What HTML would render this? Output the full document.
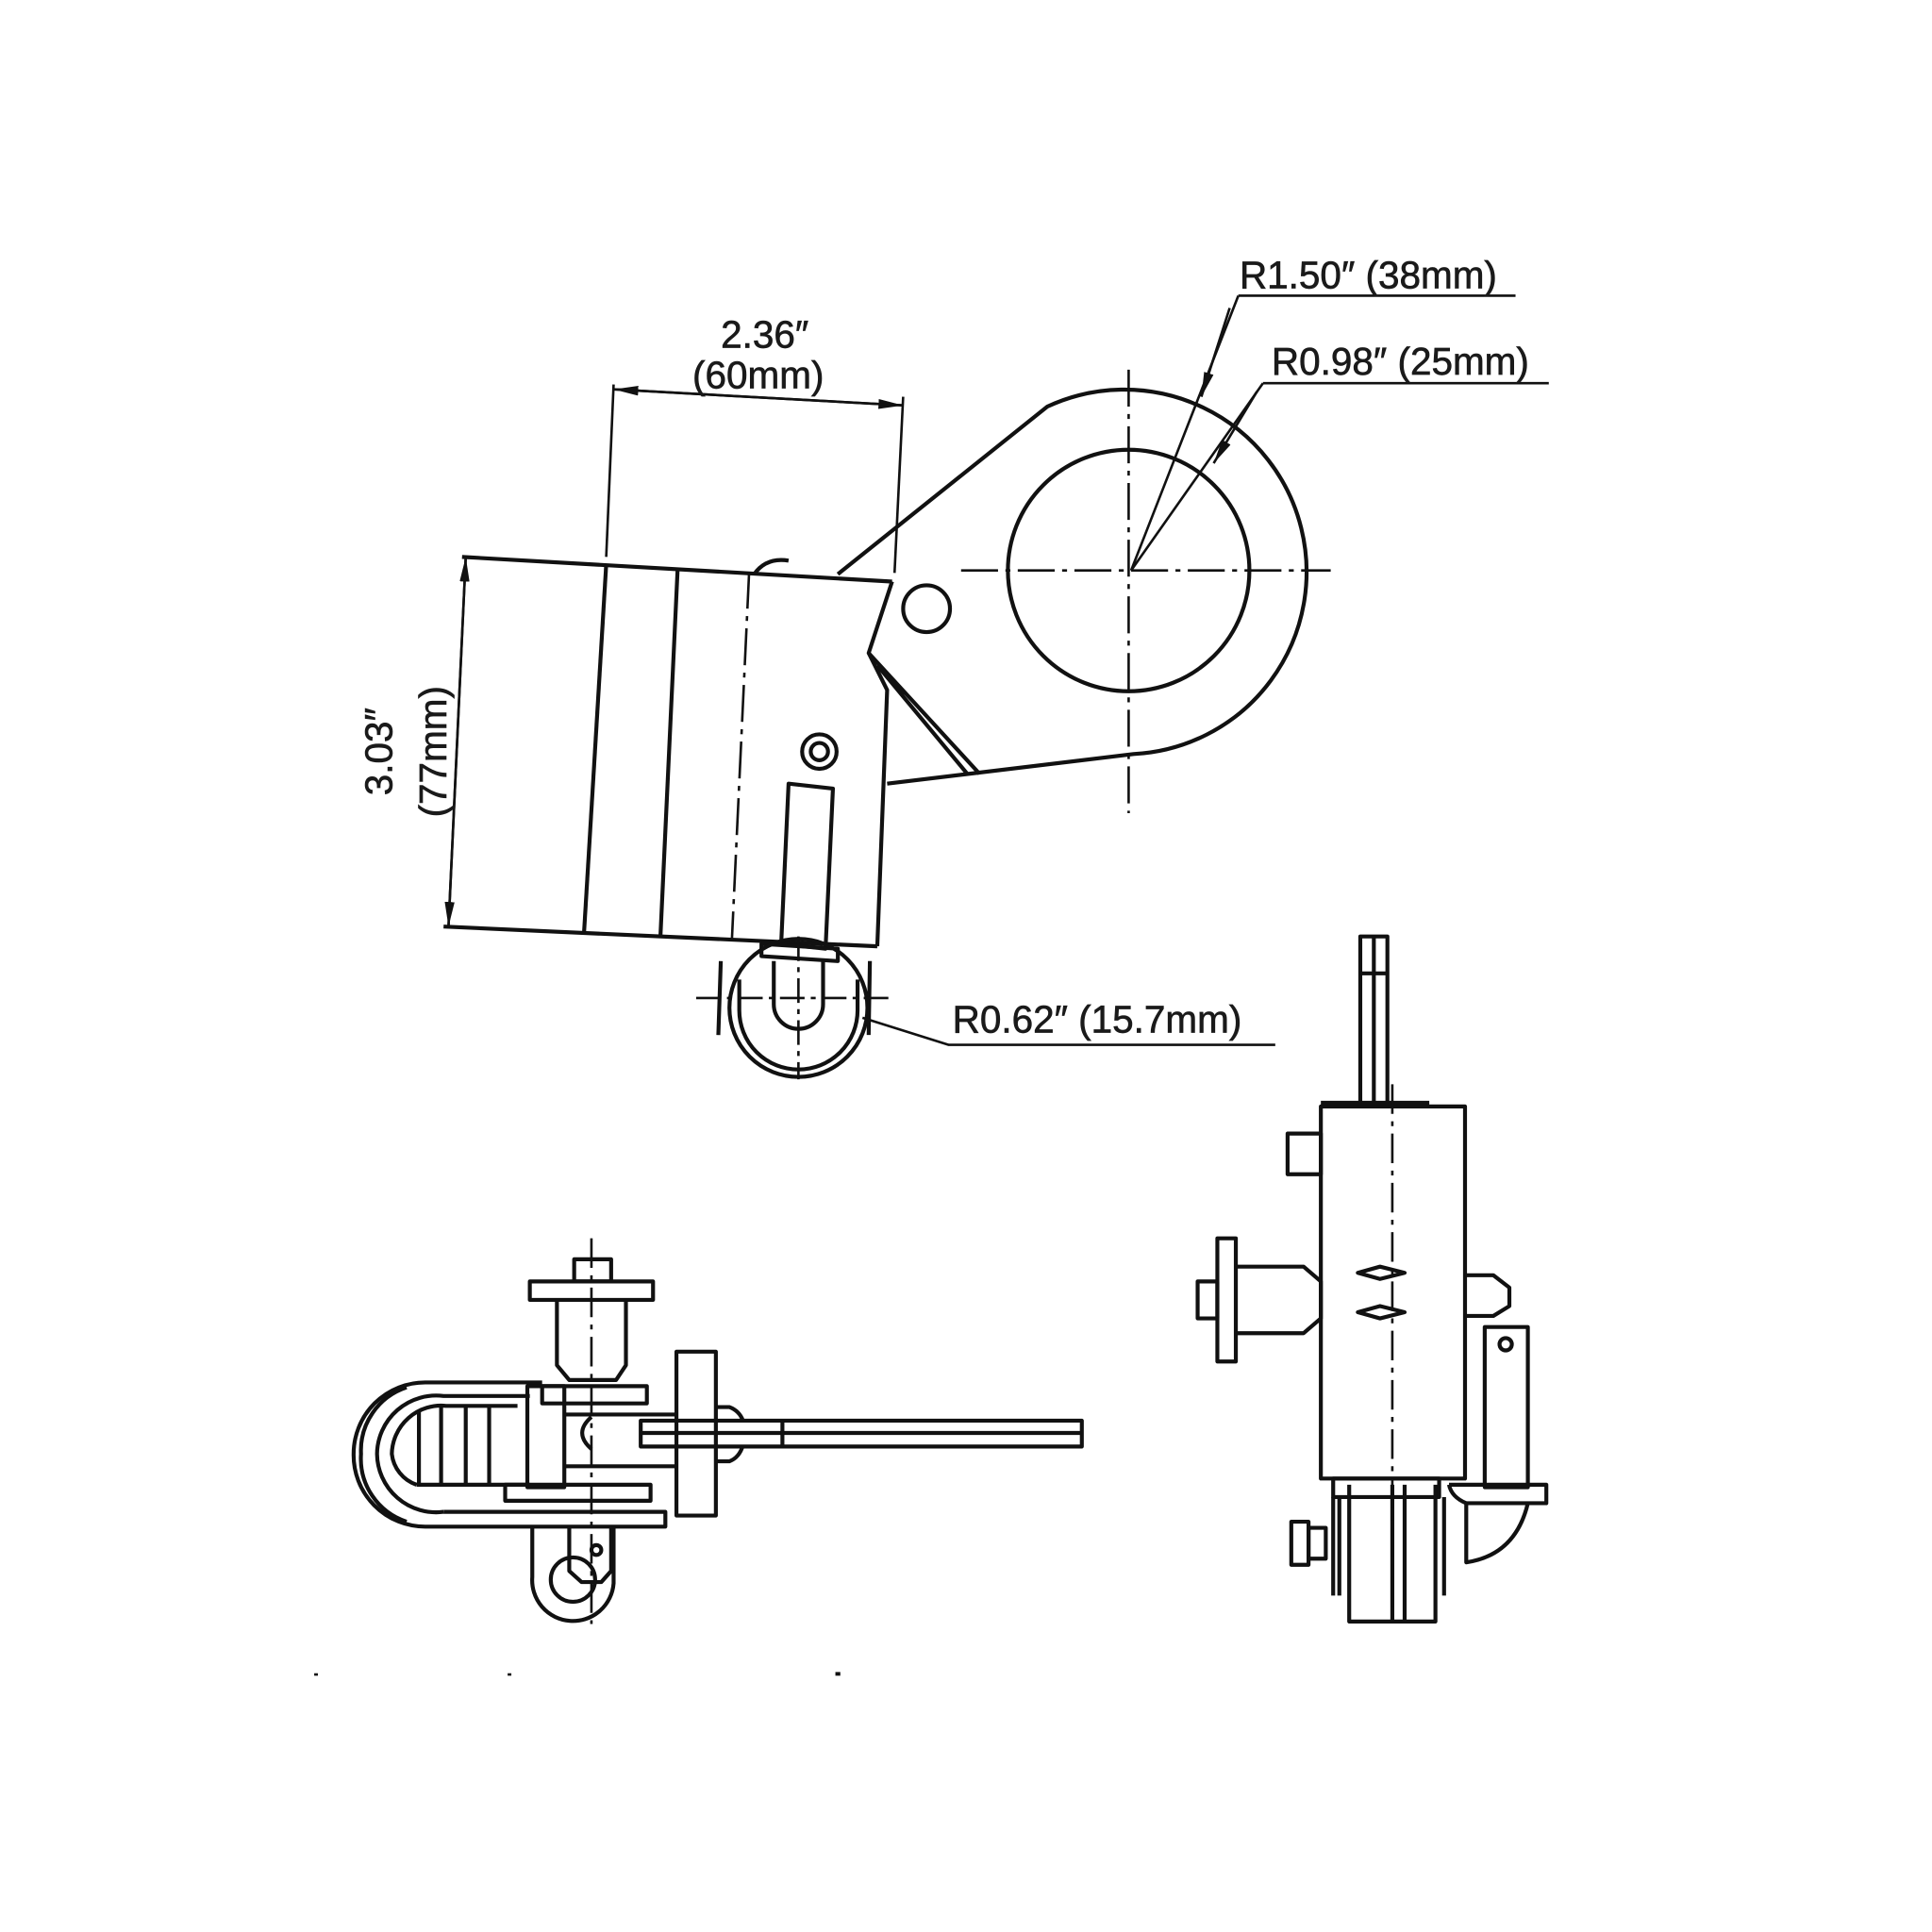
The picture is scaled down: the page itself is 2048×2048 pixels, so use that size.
<!DOCTYPE html>
<html><head><meta charset="utf-8"><style>
html,body{margin:0;padding:0;background:#fff;width:2048px;height:2048px;overflow:hidden}
svg{display:block}
text{font-family:"Liberation Sans",sans-serif;fill:#1a1a1a;stroke:#1a1a1a;stroke-width:0.5}
</style></head><body>
<svg width="2048" height="2048" viewBox="0 0 1568 1568" xmlns="http://www.w3.org/2000/svg">
<defs>
<marker id="ar" viewBox="0 0 20 8" refX="20" refY="4" markerWidth="20" markerHeight="8" orient="auto" markerUnits="userSpaceOnUse"><path d="M0,0 L20,4 L0,8 z" fill="#111"/></marker>
</defs>
<g fill="none" stroke="#111" stroke-width="3.2" stroke-linejoin="round">
<!-- TOP VIEW lobe -->
<path d="M680,466 L850,330 A148,148 0 1 1 920,612 L720,636"/>
<circle cx="916" cy="463" r="98"/>
<circle cx="752" cy="494" r="19"/>
<g stroke-width="2" stroke-dasharray="30,6,4,6">
<line x1="780" y1="463" x2="1080" y2="463"/>
<line x1="916" y1="300" x2="916" y2="660"/>
</g>
<!-- leaders -->
<g stroke-width="2">
<line x1="1230" y1="240" x2="1005" y2="240"/>
<line x1="1005" y1="240" x2="918" y2="463"/>
<line x1="1257" y1="311" x2="1025" y2="311"/>
<line x1="1025" y1="311" x2="918" y2="463"/>
<line x1="998" y1="250" x2="975" y2="322" marker-end="url(#ar)"/>
<line x1="1020" y1="318" x2="985" y2="376" marker-end="url(#ar)"/>
</g>
<!-- box -->
<line x1="375" y1="452" x2="724" y2="472"/>
<line x1="360" y1="752" x2="712" y2="768"/>
<path d="M724,472 L705,530 L720,560 L712,768"/>
<line x1="492" y1="458" x2="474" y2="757"/>
<line x1="550" y1="461" x2="536" y2="760"/>
<line x1="608" y1="464" x2="594" y2="763" stroke-dasharray="30,6,4,6" stroke-width="2"/>
<path d="M612,466 Q622,452 640,455"/>
<path d="M705,530 L795,628 M712,540 L785,628"/>
<circle cx="665" cy="610" r="14"/><circle cx="665" cy="610" r="7"/>
<path d="M640,636 L676,640 L670,770 L634,766 z"/>
<path d="M618,766 L680,770 L680,780 L618,776 z"/>
<!-- wheel -->
<circle cx="648" cy="818" r="56"/>
<path d="M585,780 L583,840 M706,780 L705,840"/>
<path d="M628,780 L628,815 A20,20 0 0 0 668,815 L668,780"/>
<path d="M600,795 L600,820 A48,48 0 0 0 696,820 L696,795"/>
<g stroke-width="2" stroke-dasharray="20,5,4,5">
<line x1="565" y1="810" x2="725" y2="810"/>
<line x1="648" y1="760" x2="648" y2="876"/>
</g>
<path d="M700,826 L770,848 L1035,848" stroke-width="2"/>
<!-- dims -->
<g stroke-width="2">
<line x1="498" y1="312" x2="492" y2="452"/>
<line x1="733" y1="322" x2="726" y2="465"/>
<line x1="498" y1="316" x2="733" y2="329" marker-end="url(#ar)"/>
<line x1="733" y1="329" x2="498" y2="316" marker-end="url(#ar)"/>
<line x1="378" y1="452" x2="364" y2="752" marker-end="url(#ar)"/>
<line x1="364" y1="752" x2="378" y2="452" marker-end="url(#ar)"/>
</g>

<!-- BOTTOM LEFT VIEW -->
<rect x="466" y="1022" width="30" height="18"/>
<rect x="430" y="1040" width="100" height="15"/>
<path d="M452,1055 L452,1108 L462,1120 L500,1120 L508,1108 L508,1055"/>
<path d="M440,1122 L345,1122 A58,58 0 0 0 287,1180 A58,58 0 0 0 345,1239 L540,1239 L540,1227 L360,1227"/>
<path d="M330,1126 A54,54 0 0 0 293,1180 A54,54 0 0 0 330,1235"/>
<path d="M430,1133 L360,1133 A48,48 0 0 0 306,1180 A48,48 0 0 0 360,1227"/>
<path d="M420,1141 L362,1141 A40,40 0 0 0 318,1180 A30,30 0 0 0 338,1205"/>
<path d="M340,1145 L340,1205 M358,1141 L358,1205 M378,1141 L378,1205 M397,1141 L397,1205 M338,1205 L430,1205"/>
<rect x="428" y="1125" width="30" height="82"/>
<rect x="440" y="1125" width="85" height="14"/>
<path d="M458,1148 L548,1148 M458,1190 L548,1190"/>
<rect x="549" y="1097" width="32" height="133"/>
<path d="M582,1142 L592,1142 Q600,1145 603,1153 M582,1186 L592,1186 Q600,1183 603,1173"/>
<rect x="520" y="1153" width="358" height="21"/>
<line x1="520" y1="1163" x2="878" y2="1163"/>
<line x1="635" y1="1153" x2="635" y2="1174"/>
<path d="M480,1150 Q465,1163 480,1176"/>
<rect x="410" y="1205" width="118" height="13"/>
<path d="M432,1239 L432,1280 A33,33 0 0 0 498,1285 L498,1239"/>
<path d="M462,1239 L462,1275 L472,1284 L488,1284 L496,1275 L496,1239"/>
<circle cx="465" cy="1282" r="18"/>
<circle cx="484" cy="1258" r="4"/>
<line x1="480" y1="1005" x2="480" y2="1318" stroke-width="2" stroke-dasharray="24,6,4,6"/>

<!-- RIGHT VIEW -->
<rect x="1104" y="760" width="22" height="138"/>
<line x1="1115" y1="760" x2="1115" y2="898"/>
<line x1="1104" y1="790" x2="1126" y2="790"/>
<rect x="1072" y="898" width="117" height="302"/>
<line x1="1072" y1="895" x2="1160" y2="895"/>
<rect x="1045" y="920" width="27" height="33"/>
<rect x="988" y="1005" width="15" height="100"/>
<rect x="972" y="1040" width="16" height="30"/>
<path d="M1003,1028 L1058,1028 L1072,1040 L1072,1070 L1058,1082 L1003,1082"/>
<path d="M1102,1033 L1120,1028 L1140,1033 L1120,1038 z M1102,1065 L1120,1060 L1140,1065 L1120,1070 z"/>
<path d="M1189,1035 L1212,1035 L1225,1045 L1225,1060 L1212,1068 L1189,1068"/>
<rect x="1205" y="1077" width="35" height="130"/>
<circle cx="1222" cy="1091" r="5"/>
<path d="M1176,1205 L1255,1205 L1255,1220 L1190,1220 Q1178,1215 1176,1205"/>
<path d="M1190,1220 L1190,1268 Q1230,1262 1240,1220"/>
<rect x="1082" y="1200" width="86" height="15"/>
<path d="M1095,1205 L1095,1316 L1165,1316 L1165,1205 M1130,1205 L1130,1316 M1140,1205 L1140,1316"/>
<path d="M1082,1215 L1082,1295 M1087,1215 L1087,1295 M1172,1215 L1172,1295"/>
<rect x="1048" y="1235" width="14" height="35"/>
<rect x="1062" y="1240" width="14" height="25"/>
<line x1="1130" y1="880" x2="1130" y2="1310" stroke-width="2" stroke-dasharray="24,6,4,6"/>
</g>
<g fill="#111"><rect x="255" y="1358" width="3" height="2"/><rect x="412" y="1358" width="3" height="2"/><rect x="678" y="1357" width="4" height="3"/></g>
<g font-size="31">
<text x="1006" y="234">R1.50″ (38mm)</text>
<text x="1032" y="304">R0.98″ (25mm)</text>
<text x="773" y="838">R0.62″ (15.7mm)</text>
<text x="585" y="282">2.36″</text>
<text x="562" y="315">(60mm)</text>
<text transform="translate(318,610) rotate(-90)" text-anchor="middle">3.03″</text>
<text transform="translate(362,610) rotate(-90)" text-anchor="middle">(77mm)</text>
</g>
</svg>
</body></html>
